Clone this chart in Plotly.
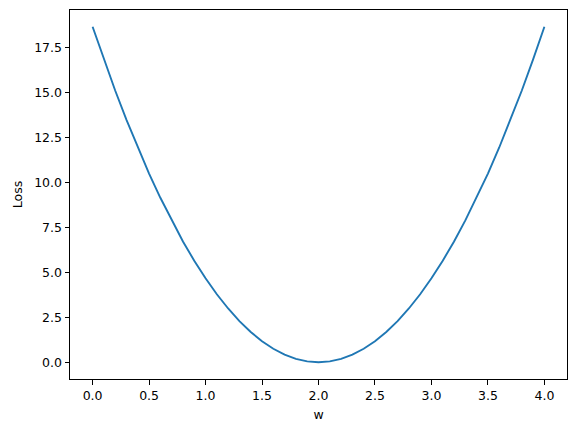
import plotly.graph_objects as go

w = [0.0, 0.1, 0.2, 0.3, 0.4, 0.5, 0.6, 0.7, 0.8, 0.9, 1.0,
     1.1, 1.2, 1.3, 1.4, 1.5, 1.6, 1.7, 1.8, 1.9, 2.0,
     2.1, 2.2, 2.3, 2.4, 2.5, 2.6, 2.7, 2.8, 2.9, 3.0,
     3.1, 3.2, 3.3, 3.4, 3.5, 3.6, 3.7, 3.8, 3.9, 4.0]
loss = [18.67, 16.85, 15.12, 13.49, 11.95, 10.50, 9.15, 7.89, 6.72, 5.65, 4.67,
        3.78, 2.99, 2.29, 1.68, 1.17, 0.75, 0.42, 0.19, 0.05, 0.00,
        0.05, 0.19, 0.42, 0.75, 1.17, 1.68, 2.29, 2.99, 3.78, 4.67,
        5.65, 6.72, 7.89, 9.15, 10.50, 11.95, 13.49, 15.12, 16.85, 18.67]

x_ticks = [0.0, 0.5, 1.0, 1.5, 2.0, 2.5, 3.0, 3.5, 4.0]
y_ticks = [0.0, 2.5, 5.0, 7.5, 10.0, 12.5, 15.0, 17.5]

fig = go.Figure(go.Scatter(x=w, y=loss, mode="lines",
                           line=dict(color="#1f77b4", width=1.9)))

axis_common = dict(showgrid=False, zeroline=False, showline=True, mirror=True,
                   linecolor="black", linewidth=1, ticks="outside", ticklen=4.5,
                   tickwidth=1, tickcolor="black",
                   tickfont=dict(family="DejaVu Sans", size=12.5, color="black"))

fig.update_layout(
    width=576, height=432,
    margin=dict(l=62, r=17, t=2, b=61, autoexpand=False),
    paper_bgcolor="white", plot_bgcolor="white",
    showlegend=False,
    xaxis=dict(range=[-0.2, 4.2], tickvals=x_ticks,
               ticktext=[f"{v:.1f}" for v in x_ticks],
               title=dict(text="w", font=dict(family="DejaVu Sans", size=12.5, color="black"), standoff=8),
               **axis_common),
    yaxis=dict(range=[-0.933, 19.6], tickvals=y_ticks,
               ticktext=[f"{v:.1f}" for v in y_ticks],
               title=dict(text="Loss", font=dict(family="DejaVu Sans", size=12.5, color="black"), standoff=8),
               **axis_common),
)

fig.write_html("out.html")
